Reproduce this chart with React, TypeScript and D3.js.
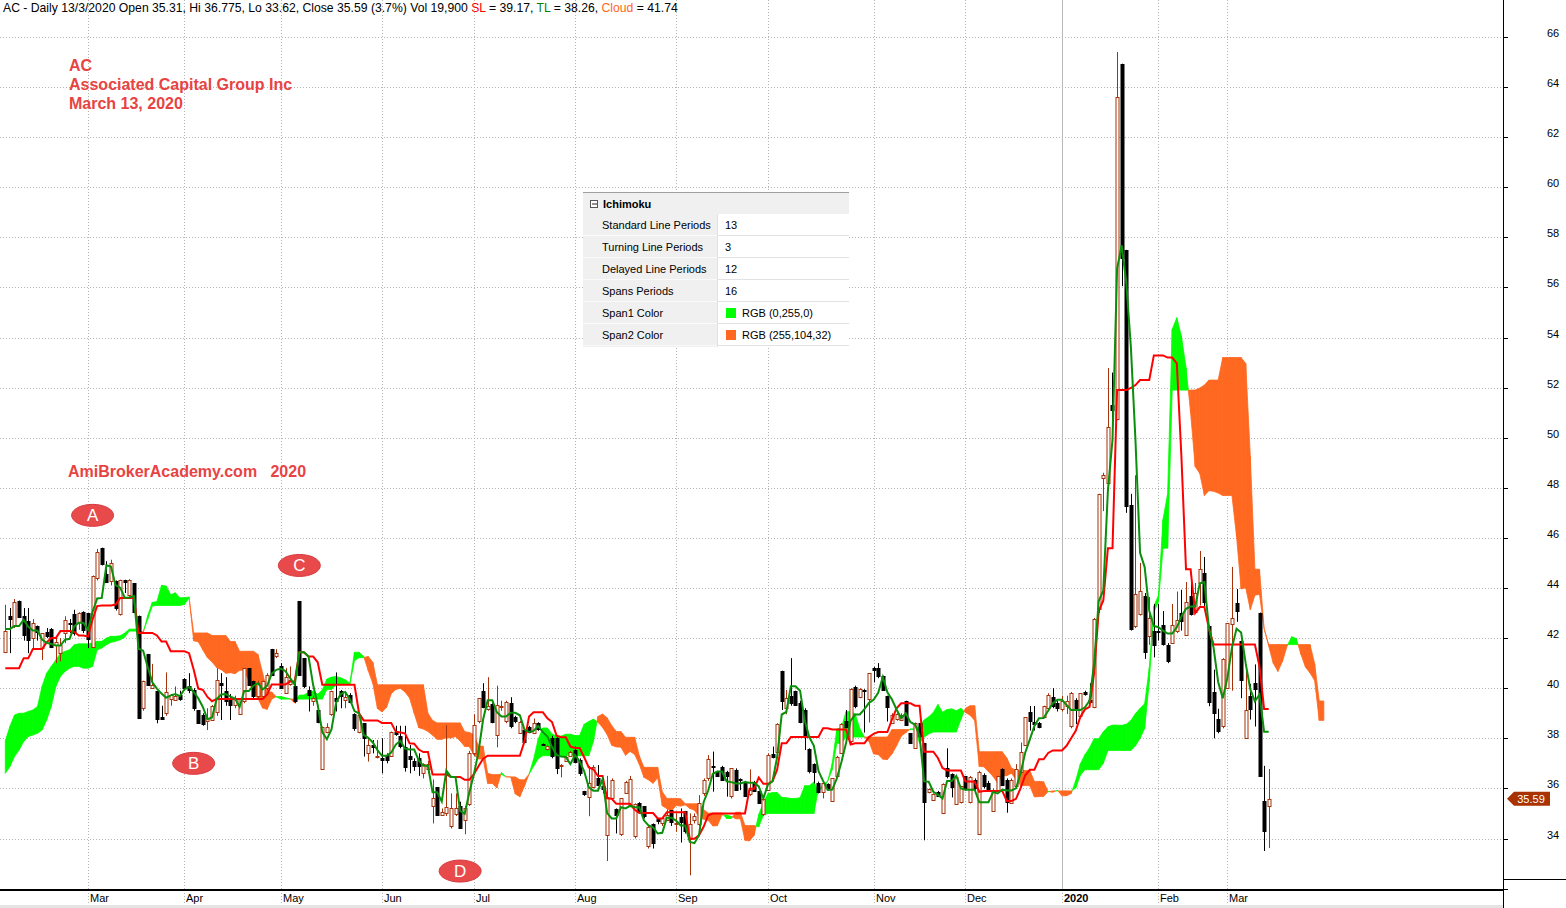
import React, { useEffect, useRef } from 'react';
import * as d3 from 'd3';

// ---- price data, one entry per trading bar (Feb 2019 .. 13 Mar 2020) ----
const opens = [
  41.44, 42.9, 42.5, 43.49, 42.87, 42.7, 42.0, 42.5, 41.6, 42.26,
  42.37, 41.72, 41.4, 42.2, 42.6, 42.96, 42.63, 43.03, 43.0, 41.64,
  44.4, 45.61, 44.57, 44.27, 44.27, 42.96, 44.31, 43.73, 44.2, 42.9,
  39.2, 41.37, 40.0, 39.87, 38.87, 39.0, 39.56, 39.53, 39.73, 40.37,
  40.07, 39.93, 39.13, 38.93, 38.67, 38.73, 39.07, 40.2, 39.9, 39.56,
  39.33, 38.97, 39.47, 40.8, 40.27, 39.7, 39.67, 40.0, 41.57, 41.3,
  40.87, 39.8, 40.17, 40.07, 43.47, 41.2, 39.93, 39.5, 39.13, 36.8,
  38.27, 38.97, 39.6, 39.87, 39.53, 39.73, 38.97, 38.27, 38.6, 37.4,
  37.73, 37.3, 37.2, 37.33, 37.33, 38.27, 38.1, 37.65, 37.3, 37.1,
  37.2, 36.63, 36.76, 35.33, 36.04, 34.96, 35.0, 34.47, 34.97, 35.29,
  34.73, 35.37, 37.4, 38.67, 39.89, 39.16, 39.36, 38.13, 39.27, 38.68,
  39.4, 38.84, 38.23, 38.33, 38.47, 38.23, 38.6, 37.77, 37.59, 38.0,
  38.0, 36.94, 37.13, 37.33, 37.53, 37.13, 35.9, 35.67, 36.07, 36.4,
  36.1, 34.16, 35.6, 35.17, 34.16, 35.84, 35.33, 34.07, 35.4, 35.3,
  33.67, 34.57, 34.76, 34.6, 34.73, 35.13, 34.6, 34.87, 35.1, 33.96,
  34.73, 34.6, 35.8, 36.4, 36.9, 36.67, 36.84, 36.67, 35.67, 36.73,
  36.37, 36.27, 35.78, 36.27, 35.89, 34.96, 35.93, 37.37, 37.43, 40.67,
  39.2, 39.67, 39.87, 39.4, 39.13, 37.56, 36.97, 36.2, 35.83, 36.16,
  35.5, 36.53, 37.4, 38.69, 37.87, 40.03, 39.64, 39.93, 39.56, 40.8,
  40.8, 40.47, 39.69, 38.63, 38.76, 38.73, 39.47, 38.2, 37.6, 38.6,
  37.8, 35.83, 35.53, 35.87, 35.0, 36.8, 36.57, 35.4, 35.47, 36.49,
  35.47, 36.33, 34.2, 36.53, 36.23, 35.1, 35.93, 36.76, 36.33, 35.43,
  36.07, 36.67, 37.73, 39.03, 38.67, 38.6, 38.84, 39.2, 39.63, 39.4,
  39.16, 39.27, 38.47, 39.53, 38.87, 39.84, 39.51, 39.24, 43.15, 48.4,
  48.17, 51.3, 50.73, 64.93, 57.5, 47.3, 42.5, 42.97, 43.7, 42.08,
  42.3, 42.3, 42.51, 41.73, 41.83, 42.3, 43.0, 42.13, 43.67, 43.05,
  44.21, 44.6, 42.48, 39.84, 38.79, 38.47, 40.0, 42.6, 43.4, 41.87,
  38.0, 39.7, 40.21, 43.0, 35.5, 35.31,
];

const highs = [
  43.33, 43.2, 43.56, 43.5, 43.2, 43.2, 42.76, 42.5, 42.2, 42.4,
  42.4, 42.0, 42.0, 42.87, 42.76, 43.13, 43.03, 43.07, 43.0, 44.5,
  45.56, 45.61, 45.07, 45.13, 44.3, 44.33, 44.33, 44.35, 44.2, 42.9,
  40.3, 41.37, 40.97, 39.9, 39.3, 40.63, 39.77, 40.07, 39.9, 40.4,
  40.6, 40.0, 39.13, 39.0, 39.2, 39.33, 40.8, 40.6, 40.44, 39.77,
  39.7, 39.6, 40.8, 40.8, 40.3, 40.3, 40.3, 40.6, 41.57, 41.56,
  41.0, 40.8, 40.87, 40.5, 43.47, 41.2, 40.07, 39.7, 39.13, 38.47,
  38.6, 39.9, 40.63, 39.93, 39.87, 39.8, 39.0, 38.97, 38.6, 37.99,
  37.93, 37.93, 38.0, 37.4, 38.27, 38.5, 38.5, 38.5, 37.73, 37.2,
  37.4, 37.0, 37.1, 36.36, 36.04, 35.2, 38.52, 35.8, 35.8, 35.47,
  35.3, 37.5, 38.96, 39.6, 40.2, 40.44, 39.4, 40.1, 39.5, 39.5,
  39.64, 38.9, 38.7, 38.4, 38.5, 38.79, 38.64, 37.8, 37.75, 38.1,
  38.07, 36.97, 37.3, 37.5, 37.67, 37.2, 35.9, 36.89, 36.93, 36.93,
  36.3, 36.5, 36.4, 35.2, 35.6, 36.3, 36.5, 35.4, 35.45, 35.3,
  34.5, 34.6, 34.8, 34.85, 35.16, 35.13, 35.0, 35.2, 35.1, 35.0,
  35.0, 35.73, 36.4, 37.33, 37.47, 36.7, 36.9, 36.7, 36.8, 36.8,
  36.4, 36.3, 36.76, 36.3, 35.9, 35.6, 37.4, 37.67, 38.6, 40.7,
  39.93, 41.2, 39.9, 39.5, 39.2, 37.6, 37.0, 36.27, 36.27, 36.2,
  36.4, 37.3, 38.6, 39.13, 40.0, 40.1, 40.0, 39.96, 40.6, 40.85,
  41.0, 40.5, 39.7, 39.0, 39.0, 39.0, 39.5, 38.2, 38.63, 38.6,
  37.8, 36.0, 35.8, 35.9, 36.2, 37.6, 36.6, 36.5, 36.1, 36.5,
  36.5, 36.4, 36.7, 36.6, 36.3, 36.0, 36.5, 36.8, 36.4, 36.4,
  36.97, 37.83, 38.85, 39.29, 39.29, 38.65, 39.3, 39.8, 40.0, 39.5,
  39.69, 39.7, 39.85, 39.6, 39.8, 39.9, 40.2, 42.8, 47.76, 48.6,
  52.78, 52.6, 65.4, 64.93, 57.5, 47.76, 48.5, 45.0, 43.8, 43.64,
  43.36, 43.36, 43.08, 41.8, 43.36, 43.86, 43.93, 44.24, 44.43, 44.2,
  45.48, 45.24, 42.5, 40.74, 39.18, 41.2, 42.6, 44.84, 43.96, 41.9,
  40.67, 40.17, 40.95, 43.02, 36.9, 36.775,
];

const lows = [
  41.4, 41.4, 42.4, 42.8, 41.9, 41.4, 41.6, 41.9, 41.13, 42.0,
  41.6, 41.0, 41.07, 41.8, 42.2, 42.1, 42.33, 42.2, 41.6, 41.6,
  44.3, 44.9, 44.2, 44.1, 43.1, 42.9, 43.8, 43.6, 43.0, 38.8,
  39.1, 40.1, 40.0, 38.6, 38.8, 38.9, 39.3, 39.5, 39.5, 40.0,
  39.8, 39.1, 38.6, 38.5, 38.33, 38.7, 38.9, 38.73, 39.3, 38.73,
  39.2, 38.97, 39.4, 40.1, 39.6, 39.6, 39.6, 39.9, 40.5, 41.2,
  40.0, 39.8, 40.1, 39.4, 40.5, 40.0, 39.07, 39.3, 38.6, 36.8,
  38.2, 38.9, 39.07, 39.2, 39.2, 39.4, 38.3, 38.2, 37.27, 37.07,
  37.4, 37.2, 36.6, 37.0, 37.3, 38.1, 37.6, 36.67, 36.6, 36.7,
  36.5, 36.4, 36.6, 34.6, 34.9, 34.9, 34.9, 34.4, 34.9, 34.4,
  34.17, 35.3, 37.3, 38.6, 39.2, 39.1, 38.6, 37.64, 39.1, 38.6,
  38.4, 38.6, 38.2, 37.8, 38.2, 38.2, 38.3, 37.7, 37.5, 37.2,
  36.57, 36.44, 37.1, 37.3, 37.0, 36.5, 35.7, 34.89, 36.0, 36.1,
  35.8, 33.1, 35.5, 34.2, 34.1, 35.8, 35.3, 34.0, 35.0, 34.8,
  33.6, 33.6, 34.57, 34.5, 34.7, 34.5, 34.27, 33.84, 34.2, 32.53,
  34.6, 34.5, 35.7, 36.3, 35.87, 36.5, 36.3, 35.67, 35.6, 35.9,
  35.93, 35.7, 35.7, 35.9, 35.4, 34.9, 35.9, 37.2, 37.4, 39.13,
  38.96, 39.3, 39.3, 38.6, 37.53, 36.6, 36.2, 35.8, 35.6, 35.9,
  35.5, 36.5, 37.4, 38.4, 37.8, 39.2, 39.6, 38.23, 38.63, 40.23,
  40.4, 39.9, 38.67, 38.6, 38.7, 38.7, 38.5, 37.8, 37.6, 38.0,
  33.93, 35.8, 35.5, 35.7, 35.0, 36.4, 35.64, 35.4, 35.4, 35.9,
  35.4, 35.9, 34.2, 36.0, 35.9, 35.1, 35.9, 36.1, 35.03, 35.4,
  36.0, 36.6, 37.7, 38.31, 38.31, 38.4, 38.8, 39.1, 39.2, 39.07,
  39.07, 38.97, 38.4, 38.57, 38.8, 39.7, 39.4, 39.2, 43.0, 47.07,
  48.1, 49.96, 50.7, 56.05, 47.0, 42.3, 42.4, 42.9, 41.17, 41.73,
  41.23, 41.9, 41.7, 41.0, 41.8, 42.2, 42.3, 42.1, 42.9, 43.0,
  43.3, 43.15, 39.28, 38.0, 38.2, 38.4, 40.0, 39.9, 42.65, 39.6,
  38.0, 38.75, 38.47, 36.48, 33.5, 33.62,
];

const closes = [
  42.29, 42.8, 43.44, 42.87, 42.13, 41.96, 42.6, 42.26, 42.2, 42.1,
  41.67, 41.85, 41.73, 42.73, 42.55, 42.2, 43.0, 42.3, 41.96, 44.47,
  45.44, 44.97, 44.27, 45.0, 43.2, 44.33, 44.25, 44.33, 43.03, 38.84,
  40.27, 40.13, 40.13, 38.76, 38.8, 39.84, 39.73, 39.7, 39.56, 40.03,
  39.9, 39.2, 38.6, 38.57, 38.8, 39.27, 40.33, 40.13, 39.5, 39.33,
  39.55, 39.6, 40.8, 40.13, 39.67, 40.2, 40.27, 40.53, 40.53, 41.4,
  40.0, 40.44, 40.33, 39.47, 40.53, 40.07, 39.73, 39.6, 38.67, 38.47,
  38.47, 39.87, 39.47, 39.67, 39.63, 39.47, 38.4, 38.93, 38.0, 37.73,
  37.65, 37.3, 37.13, 37.13, 38.27, 38.2, 37.7, 36.87, 37.2, 36.9,
  36.9, 36.97, 36.97, 35.63, 34.93, 35.07, 35.24, 35.2, 35.2, 34.4,
  35.2, 37.4, 38.52, 39.6, 39.27, 39.29, 38.63, 39.33, 39.3, 39.45,
  38.47, 38.67, 38.67, 37.87, 38.27, 38.63, 38.36, 37.76, 37.69, 37.27,
  36.8, 36.94, 37.27, 37.47, 37.07, 36.63, 35.8, 36.23, 36.87, 36.13,
  36.0, 35.67, 36.33, 34.93, 35.6, 36.27, 36.36, 35.36, 35.03, 34.9,
  34.44, 33.83, 34.67, 34.8, 34.93, 34.67, 34.6, 34.67, 34.31, 34.57,
  34.89, 35.43, 36.33, 37.17, 36.85, 36.53, 36.33, 36.53, 36.8, 35.93,
  36.35, 35.73, 35.93, 35.93, 35.43, 35.57, 37.33, 37.24, 38.56, 39.49,
  39.6, 39.4, 39.33, 38.65, 38.13, 36.67, 36.67, 35.83, 36.2, 36.0,
  36.4, 37.27, 38.56, 38.44, 39.96, 39.27, 39.96, 39.9, 40.6, 40.71,
  40.49, 39.93, 39.27, 38.93, 38.97, 38.93, 38.53, 37.8, 38.6, 38.07,
  35.43, 35.96, 35.77, 35.73, 36.17, 36.49, 36.07, 36.47, 36.09, 35.96,
  36.47, 36.0, 36.67, 36.09, 35.96, 35.93, 36.49, 36.13, 35.47, 36.33,
  36.76, 37.47, 38.84, 38.67, 38.6, 38.44, 39.29, 39.73, 39.27, 39.2,
  39.49, 39.47, 39.8, 39.13, 39.8, 39.76, 39.43, 42.76, 47.76, 48.5,
  50.42, 51.1, 63.59, 57.2, 47.3, 42.36, 43.76, 43.88, 41.45, 42.79,
  41.73, 42.28, 41.77, 41.09, 42.54, 42.72, 42.68, 43.43, 42.96, 43.79,
  44.75, 43.43, 39.46, 38.99, 38.33, 41.16, 42.6, 42.82, 43.08, 40.31,
  39.13, 39.18, 39.99, 36.48, 34.32, 35.59,
];

// standard line values on the first bars (their window reaches back before the chart)
const slHead = [40.8, 40.8, 40.8, 40.8, 41.2, 41.2, 41.56, 41.56, 41.56, 41.83, 42.0, 42.0];
// cloud on the first bars (span1 above span2 there)
const cloudTopHead = [
  37.9, 38.47, 38.93, 39.0, 39.0, 39.07, 39.13, 39.27, 40.07, 40.6,
  40.87, 41.13, 41.4, 41.47, 41.53, 41.73, 41.77, 41.77, 41.77, 41.8,
  41.87, 41.87, 42.0, 42.07, 42.07, 42.09, 42.2,
];
const cloudBottomHead = [
  36.6, 36.87, 37.27, 37.53, 37.87, 38.07, 38.13, 38.2, 38.33, 38.73,
  39.27, 40.07, 40.47, 40.67, 40.8, 40.87, 40.87, 40.8, 40.8, 40.87,
  41.53, 41.6, 41.73, 41.83, 41.87, 41.93, 42.04,
];

const months = ['Mar', 'Apr', 'May', 'Jun', 'Jul', 'Aug', 'Sep', 'Oct', 'Nov', 'Dec', '2020', 'Feb', 'Mar'];
const monthBars = [18, 39, 60, 82, 102, 124, 146, 166, 189, 209, 230, 251, 266];
const priceTicks = [32, 34, 36, 38, 40, 42, 44, 46, 48, 50, 52, 54, 56, 58, 60, 62, 64, 66];

const stdPeriods = 13;
const turnPeriods = 3;
const delayPeriods = 12;
const spanPeriods = 16;

const paramLabels = ['Standard Line Periods', 'Turning Line Periods', 'Delayed Line Periods', 'Spans Periods', 'Span1 Color', 'Span2 Color'];
const paramValues = ['13', '3', '12', '16', 'RGB (0,255,0)', 'RGB (255,104,32)'];
const paramSwatch = [null, null, null, null, '#00ff00', '#ff6820'];

const notes = [
  { label: 'A', bar: 19, price: 46.9 },
  { label: 'B', bar: 41, price: 37.0 },
  { label: 'C', bar: 64, price: 44.9 },
  { label: 'D', bar: 99, price: 32.7 },
];

const FONT = "Arial, 'Liberation Sans', sans-serif";
const UP = '#a8320a';
const SPAN1 = '#00ff00';
const SPAN2 = '#ff6820';

const hhv = (a: number[], i: number, n: number) => d3.max(a.slice(Math.max(0, i - n + 1), i + 1)) as number;
const llv = (a: number[], i: number, n: number) => d3.min(a.slice(Math.max(0, i - n + 1), i + 1)) as number;

export default function App() {
  const svgRef = useRef<SVGSVGElement>(null);

  useEffect(() => {
    if (!svgRef.current) return;
    const svg = d3.select(svgRef.current);
    svg.selectAll('*').remove();

    const W = 1566;
    const H = 908;
    const plotRight = 1503;
    const plotBottom = 890;
    const n = closes.length;

    const x = d3.scaleLinear().domain([0, n - 1]).range([5.3, 1268.7]);
    const y = d3.scaleLinear().domain([32, 66]).range([888.6, 36.9]);

    // Ichimoku lines
    const sl = closes.map((_, i) =>
      i < slHead.length ? slHead[i] : (hhv(highs, i, stdPeriods) + llv(lows, i, stdPeriods)) / 2);
    const tl = closes.map((_, i) => (hhv(highs, i, turnPeriods) + llv(lows, i, turnPeriods)) / 2);
    const span1: number[] = [];
    const span2: number[] = [];
    for (let p = 0; p < n + delayPeriods; p++) {
      if (p < cloudTopHead.length) {
        span1.push(cloudTopHead[p]);
        span2.push(cloudBottomHead[p]);
      } else {
        const b = p - delayPeriods;
        span1.push((sl[b] + tl[b]) / 2);
        span2.push((hhv(highs, b, spanPeriods) + llv(lows, b, spanPeriods)) / 2);
      }
    }

    svg.append('rect').attr('width', W).attr('height', H).attr('fill', '#ffffff');

    svg.append('clipPath').attr('id', 'plot-clip')
      .append('rect').attr('x', 0).attr('y', 0).attr('width', plotRight).attr('height', plotBottom);

    // grid
    const grid = svg.append('g');
    grid.selectAll('.hgrid')
      .data(priceTicks)
      .enter()
      .append('line')
      .attr('x1', 0)
      .attr('x2', plotRight)
      .attr('y1', (d) => Math.round(y(d)) + 0.5)
      .attr('y2', (d) => Math.round(y(d)) + 0.5)
      .attr('stroke', '#b4b4b4')
      .attr('stroke-dasharray', '1,2');
    grid.selectAll('.vgrid')
      .data(monthBars)
      .enter()
      .append('line')
      .attr('x1', (d) => Math.round(x(d)) + 0.5)
      .attr('x2', (d) => Math.round(x(d)) + 0.5)
      .attr('y1', 0)
      .attr('y2', 905)
      .attr('stroke', (d, i) => (months[i] === '2020' ? '#b8b8b8' : '#b4b4b4'))
      .attr('stroke-dasharray', (d, i) => (months[i] === '2020' ? null : '1,2'));

    const plot = svg.append('g').attr('clip-path', 'url(#plot-clip)');

    // cloud
    const cloud = plot.append('g');
    const poly = (pts: [number, number][], color: string) => {
      cloud.append('path')
        .attr('d', 'M' + pts.map((p) => `${x(p[0])},${y(p[1])}`).join('L') + 'Z')
        .attr('fill', color)
        .attr('stroke', color)
        .attr('stroke-width', 0.8);
    };
    for (let p = 0; p < span1.length - 1; p++) {
      const a = span1[p] - span2[p];
      const b = span1[p + 1] - span2[p + 1];
      if (a * b >= 0) {
        poly([[p, span1[p]], [p + 1, span1[p + 1]], [p + 1, span2[p + 1]], [p, span2[p]]], a + b > 0 ? SPAN1 : SPAN2);
      } else {
        const t = a / (a - b);
        const mx = p + t;
        const my = span1[p] + t * (span1[p + 1] - span1[p]);
        poly([[p, span1[p]], [mx, my], [p, span2[p]]], a > 0 ? SPAN1 : SPAN2);
        poly([[mx, my], [p + 1, span1[p + 1]], [p + 1, span2[p + 1]]], b > 0 ? SPAN1 : SPAN2);
      }
    }

    // candles
    const bars = d3.range(n);
    const candles = plot.append('g');
    candles.selectAll('.wick')
      .data(bars)
      .enter()
      .append('line')
      .attr('x1', (i) => Math.round(x(i)) + 0.5)
      .attr('x2', (i) => Math.round(x(i)) + 0.5)
      .attr('y1', (i) => y(highs[i]))
      .attr('y2', (i) => y(lows[i]))
      .attr('stroke', (i) => (closes[i] >= opens[i] ? UP : '#000'))
      .attr('stroke-width', 1);
    candles.selectAll('.body')
      .data(bars)
      .enter()
      .append('rect')
      .attr('x', (i) => Math.round(x(i)) - 1)
      .attr('width', 3)
      .attr('y', (i) => Math.round(y(Math.max(opens[i], closes[i]))) + 0.5)
      .attr('height', (i) => Math.max(1, Math.round(Math.abs(y(opens[i]) - y(closes[i])))))
      .attr('fill', (i) => (closes[i] >= opens[i] ? '#fff' : '#000'))
      .attr('stroke', (i) => (closes[i] >= opens[i] ? UP : '#000'))
      .attr('stroke-width', 1);

    // standard & turning lines
    const line = d3.line<number>().x((d, i) => x(i)).y((d) => y(d));
    plot.append('path').attr('d', line(sl)).attr('fill', 'none').attr('stroke', '#ff0000').attr('stroke-width', 2);
    plot.append('path').attr('d', line(tl)).attr('fill', 'none').attr('stroke', '#0a8f0a').attr('stroke-width', 2);

    // text overlays
    const name = svg.append('g').attr('font-family', FONT).attr('font-weight', 'bold').attr('font-size', 16).attr('fill', '#e84343');
    ['AC', 'Associated Capital Group Inc', 'March 13, 2020'].forEach((t, i) => {
      name.append('text').attr('x', 69).attr('y', 71 + i * 19.2).text(t);
    });
    name.append('text').attr('x', 68).attr('y', 477).attr('xml:space', 'preserve').text('AmiBrokerAcademy.com   2020');

    // annotation markers
    const note = svg.selectAll('.note').data(notes).enter().append('g')
      .attr('transform', (d) => `translate(${x(d.bar)},${y(d.price)})`);
    note.append('ellipse').attr('rx', 21).attr('ry', 11).attr('fill', '#e84a4c').attr('stroke', '#d63b3e').attr('stroke-width', 1);
    note.append('text').attr('text-anchor', 'middle').attr('dy', 6).attr('font-family', FONT).attr('font-size', 17).attr('fill', '#fff').text((d) => d.label);

    // parameter panel
    const panel = svg.append('g').attr('transform', 'translate(583,192)').attr('font-family', FONT).attr('font-size', 11);
    panel.append('rect').attr('width', 266).attr('height', 155).attr('fill', '#fff');
    panel.append('rect').attr('width', 266).attr('height', 22).attr('fill', '#f0f0f0');
    panel.append('line').attr('x1', 0).attr('x2', 266).attr('y1', 0.5).attr('y2', 0.5).attr('stroke', '#a0a0a0');
    panel.append('rect').attr('x', 0).attr('y', 22).attr('width', 134).attr('height', 133).attr('fill', '#f0f0f0');
    panel.append('rect').attr('x', 7.5).attr('y', 8.5).attr('width', 7).attr('height', 7).attr('fill', '#fff').attr('stroke', '#555');
    panel.append('line').attr('x1', 9).attr('x2', 14).attr('y1', 12).attr('y2', 12).attr('stroke', '#222');
    panel.append('text').attr('x', 20).attr('y', 15.5).attr('font-weight', 'bold').attr('fill', '#000').text('Ichimoku');
    paramLabels.forEach((lab, i) => {
      const top = 22 + i * 22;
      panel.append('line').attr('x1', 134).attr('x2', 266).attr('y1', top + 21.5).attr('y2', top + 21.5).attr('stroke', '#e2e2e2');
      panel.append('line').attr('x1', 0).attr('x2', 134).attr('y1', top + 21.5).attr('y2', top + 21.5).attr('stroke', '#fafafa');
      panel.append('text').attr('x', 19).attr('y', top + 15).attr('fill', '#000').text(lab);
      const sw = paramSwatch[i];
      if (sw) {
        panel.append('rect').attr('x', 143).attr('y', top + 6).attr('width', 10).attr('height', 10).attr('fill', sw);
      }
      panel.append('text').attr('x', sw ? 159 : 142).attr('y', top + 15).attr('fill', '#000').text(paramValues[i]);
    });
    panel.append('line').attr('x1', 134.5).attr('x2', 134.5).attr('y1', 22).attr('y2', 155).attr('stroke', '#e2e2e2');

    // right axis
    svg.append('rect').attr('x', plotRight).attr('y', 0).attr('width', W - plotRight).attr('height', H).attr('fill', '#fff');
    svg.append('clipPath').attr('id', 'axis-clip')
      .append('rect').attr('x', plotRight).attr('y', 0).attr('width', W - plotRight).attr('height', 879);
    const axis = svg.append('g').attr('font-family', FONT).attr('font-size', 11).attr('fill', '#000');
    axis.selectAll('.tick')
      .data(priceTicks)
      .enter()
      .append('line')
      .attr('x1', plotRight)
      .attr('x2', plotRight + 5)
      .attr('y1', (d) => Math.round(y(d)) + 0.5)
      .attr('y2', (d) => Math.round(y(d)) + 0.5)
      .attr('stroke', '#000');
    axis.append('g').attr('clip-path', 'url(#axis-clip)')
      .selectAll('text')
      .data(priceTicks)
      .enter()
      .append('text')
      .attr('x', 1553)
      .attr('y', (d) => y(d))
      .attr('text-anchor', 'middle')
      .text((d) => d);
    svg.append('line').attr('x1', plotRight + 0.5).attr('x2', plotRight + 0.5).attr('y1', 0).attr('y2', H).attr('stroke', '#000');
    svg.append('line').attr('x1', plotRight).attr('x2', W).attr('y1', 879.5).attr('y2', 879.5).attr('stroke', '#000');

    // last price marker
    const lastY = y(closes[n - 1]);
    svg.append('path')
      .attr('d', `M1507,${lastY}L1514,${lastY - 7}L1550,${lastY - 7}L1550,${lastY + 7}L1514,${lastY + 7}Z`)
      .attr('fill', '#a83200');
    svg.append('text').attr('x', 1531).attr('y', lastY + 4).attr('text-anchor', 'middle')
      .attr('font-family', FONT).attr('font-size', 11).attr('fill', '#fff').text(closes[n - 1].toFixed(2));

    // bottom axis
    svg.append('rect').attr('x', 0).attr('y', plotBottom).attr('width', plotRight).attr('height', H - plotBottom).attr('fill', '#fff');
    svg.selectAll('.mtick')
      .data(monthBars)
      .enter()
      .append('line')
      .attr('x1', (d) => Math.round(x(d)) + 0.5)
      .attr('x2', (d) => Math.round(x(d)) + 0.5)
      .attr('y1', plotBottom)
      .attr('y2', 905)
      .attr('stroke', '#b4b4b4')
      .attr('stroke-dasharray', '1,2');
    svg.append('line').attr('x1', 0).attr('x2', plotRight).attr('y1', plotBottom).attr('y2', plotBottom).attr('stroke', '#000').attr('stroke-width', 2);
    svg.selectAll('.mlabel')
      .data(monthBars)
      .enter()
      .append('text')
      .attr('x', (d) => Math.round(x(d)) + 2)
      .attr('y', 902)
      .attr('font-family', FONT)
      .attr('font-size', 11)
      .attr('font-weight', (d, i) => (months[i] === '2020' ? 'bold' : 'normal'))
      .attr('fill', '#000')
      .text((d, i) => months[i]);
    svg.append('rect').attr('x', 0).attr('y', 905).attr('width', plotRight).attr('height', 3).attr('fill', '#e4e4e4');

    // title line
    const title = svg.append('text').attr('x', 3).attr('y', 12).attr('font-family', FONT).attr('font-size', 12.2).attr('fill', '#000');
    const parts: [string, string][] = [
      [`AC - Daily 13/3/2020 Open ${opens[n - 1]}, Hi ${highs[n - 1]}, Lo ${lows[n - 1]}, Close ${closes[n - 1]} (3.7%) Vol 19,900 `, '#000'],
      ['SL', '#ff0000'],
      [` = ${sl[n - 1].toFixed(2)}, `, '#000'],
      ['TL', '#008000'],
      [` = ${tl[n - 1].toFixed(2)}, `, '#000'],
      ['Cloud', '#ff6820'],
      [` = ${span2[n - 1].toFixed(2)}`, '#000'],
    ];
    parts.forEach(([t, c]) => title.append('tspan').attr('fill', c).attr('xml:space', 'preserve').text(t));
  }, []);

  return (
    <div style={{ position: 'absolute', left: 0, top: 0, width: 1566, height: 908 }}>
      <svg ref={svgRef} width={1566} height={908} style={{ display: 'block' }} />
    </div>
  );
}
